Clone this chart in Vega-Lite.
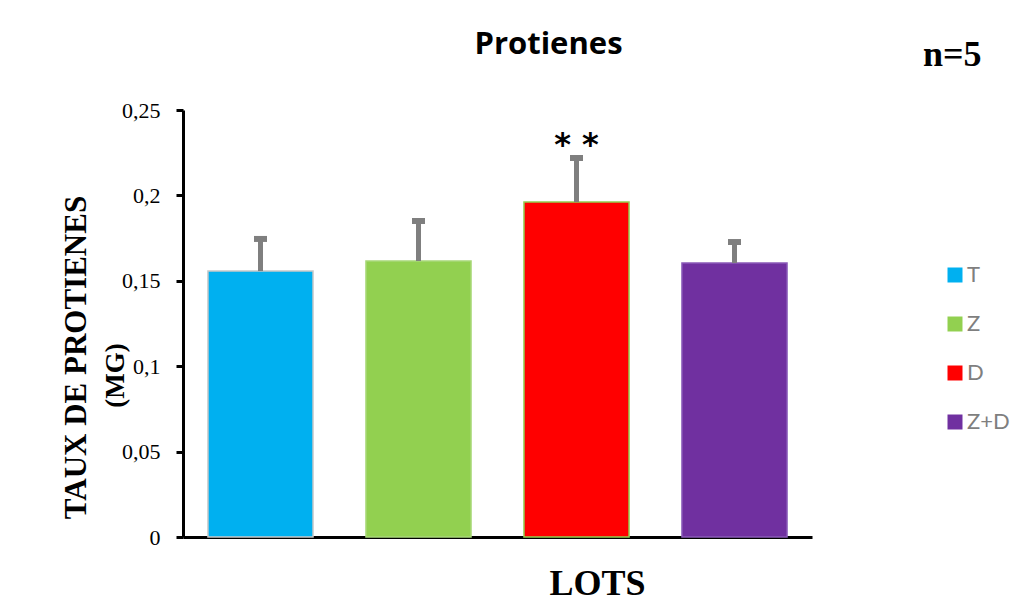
{
  "$schema": "https://vega.github.io/schema/vega-lite/v6.json",
  "width": 629,
  "height": 427,
  "autosize": "none",
  "padding": {"left": 183, "top": 110, "right": 211, "bottom": 67},
  "background": "#ffffff",
  "config": {"view": {"stroke": null}},
  "title": {
    "text": "Protienes",
    "font": "Open Sans",
    "fontSize": 31,
    "fontWeight": "bold",
    "color": "#000000",
    "anchor": "middle",
    "dx": 51,
    "baseline": "alphabetic",
    "offset": -47
  },
  "data": {
    "values": [
      {"lot": "T", "mean": 0.1557, "hi": 0.1745, "sig": ""},
      {"lot": "Z", "mean": 0.1616, "hi": 0.1850, "sig": ""},
      {"lot": "D", "mean": 0.1961, "hi": 0.2219, "sig": "* *"},
      {"lot": "Z+D", "mean": 0.1604, "hi": 0.1727, "sig": ""}
    ]
  },
  "encoding": {
    "x": {
      "field": "lot",
      "type": "nominal",
      "sort": ["T", "Z", "D", "Z+D"],
      "scale": {"paddingInner": 0.335, "paddingOuter": 0.158},
      "axis": {
        "title": "LOTS",
        "labels": false,
        "ticks": false,
        "domainColor": "#000000",
        "domainWidth": 3,
        "titleFont": "Liberation Serif",
        "titleFontSize": 36,
        "titleFontWeight": "bold",
        "titleColor": "#000000",
        "titleX": 414,
        "titleY": 57,
        "titleBaseline": "alphabetic"
      }
    }
  },
  "layer": [
    {
      "mark": {"type": "bar", "strokeWidth": 1.5},
      "encoding": {
        "y": {
          "field": "mean",
          "type": "quantitative",
          "scale": {"domain": [0, 0.25], "nice": false},
          "axis": {
            "title": "TAUX DE PROTIENES",
            "values": [0, 0.05, 0.1, 0.15, 0.2, 0.25],
            "labelExpr": "replace(format(datum.value, '.2~f'), '.', ',')",
            "grid": false,
            "domainColor": "#000000",
            "domainWidth": 3,
            "tickColor": "#000000",
            "tickWidth": 3,
            "tickSize": 7,
            "labelFont": "Liberation Serif",
            "labelFontSize": 22,
            "labelColor": "#000000",
            "labelPadding": 16,
            "titleFont": "Liberation Serif",
            "titleFontSize": 31,
            "titleFontWeight": "bold",
            "titleColor": "#000000",
            "titleAngle": 270,
            "titleX": -107,
            "titleY": 247,
            "titleBaseline": "middle"
          }
        },
        "color": {
          "field": "lot",
          "type": "nominal",
          "scale": {"domain": ["T", "Z", "D", "Z+D"], "range": ["#00B0F0", "#92D050", "#FF0000", "#7030A0"]},
          "legend": {
            "title": "n=5",
            "orient": "none",
            "legendX": 740,
            "legendY": -72,
            "padding": 0,
            "titleFont": "Liberation Serif",
            "titleFontSize": 36,
            "titleFontWeight": "bold",
            "titleColor": "#000000",
            "titlePadding": 190,
            "symbolType": "square",
            "symbolSize": 225,
            "symbolOffset": 21,
            "symbolStrokeWidth": 0,
            "labelOffset": 1,
            "labelFont": "Lato",
            "labelFontSize": 22,
            "labelColor": "#7f7f7f",
            "rowPadding": 27
          }
        },
        "stroke": {
          "field": "lot",
          "type": "nominal",
          "scale": {"domain": ["T", "Z", "D", "Z+D"], "range": ["#c8c8c8", "#a8d878", "#92D050", "#8a5ab8"]},
          "legend": null
        }
      }
    },
    {
      "mark": {"type": "rule", "color": "#7f7f7f", "strokeWidth": 5},
      "encoding": {
        "y": {
          "field": "mean",
          "type": "quantitative",
          "axis": {
            "orient": "left",
            "title": "(MG)",
            "labels": false,
            "ticks": false,
            "domain": false,
            "grid": false,
            "titleFont": "Liberation Serif",
            "titleFontSize": 27,
            "titleFontWeight": "bold",
            "titleColor": "#000000",
            "titleAngle": 270,
            "titleX": -68,
            "titleY": 265,
            "titleBaseline": "middle"
          }
        },
        "y2": {"field": "hi"}
      }
    },
    {
      "mark": {"type": "tick", "color": "#7f7f7f", "thickness": 6, "size": 13, "opacity": 1},
      "encoding": {
        "y": {"field": "hi", "type": "quantitative", "axis": null}
      }
    },
    {
      "mark": {"type": "text", "font": "DejaVu Sans", "fontSize": 32, "fontWeight": "bold", "color": "#000000", "baseline": "alphabetic", "dy": -3},
      "encoding": {
        "y": {"field": "hi", "type": "quantitative", "axis": null},
        "text": {"field": "sig"}
      }
    }
  ],
  "resolve": {"axis": {"y": "independent"}}
}
